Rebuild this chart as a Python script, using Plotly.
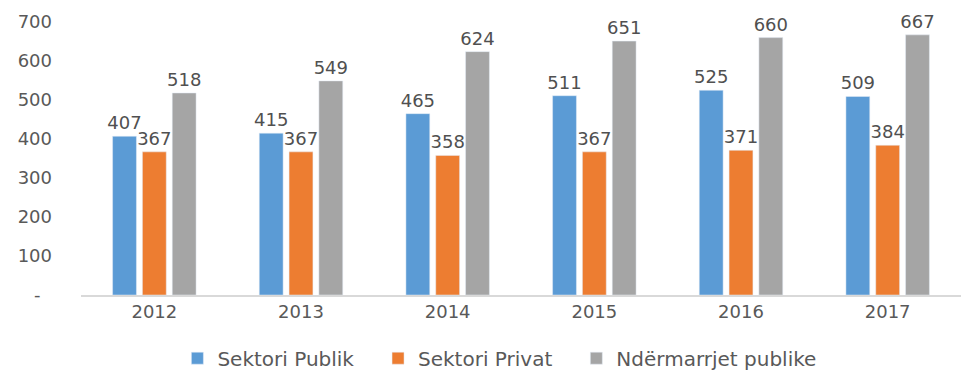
import plotly.graph_objects as go

years = ["2012", "2013", "2014", "2015", "2016", "2017"]
sektori_publik = [407, 415, 465, 511, 525, 509]
sektori_privat = [367, 367, 358, 367, 371, 384]
ndermarrjet_publike = [518, 549, 624, 651, 660, 667]

tick_vals = [0, 100, 200, 300, 400, 500, 600, 700]
tick_text = ["-\u00a0\u00a0", "100", "200", "300", "400", "500", "600", "700"]

series = [
    ("Sektori Publik\u00a0\u00a0\u00a0", sektori_publik, "#5B9BD5"),
    ("Sektori Privat\u00a0\u00a0\u00a0", sektori_privat, "#ED7D31"),
    ("Ndërmarrjet publike", ndermarrjet_publike, "#A5A5A5"),
]

fig = go.Figure()
for name, vals, color in series:
    fig.add_trace(go.Bar(
        x=years, y=vals, name=name, marker_color=color,
        text=[str(v) for v in vals], textposition="outside",
        constraintext="none",
        textfont=dict(size=18, color="#505050"), cliponaxis=False,
    ))

fig.update_layout(
    width=972, height=372,
    margin=dict(l=73, r=19, t=14, b=85, autoexpand=False),
    paper_bgcolor="white", plot_bgcolor="white",
    font=dict(family="DejaVu Sans, sans-serif", size=18, color="#595959"),
    barmode="group", bargap=0.39, bargroupgap=0.2,
    showlegend=True,
    legend=dict(orientation="h", x=0.476, xanchor="center", y=-0.16, yanchor="top",
                font=dict(size=20, color="#595959"), itemwidth=30),
    xaxis=dict(showline=True, linecolor="#D9D9D9", linewidth=1.5, ticks="",
               showgrid=False, tickfont=dict(size=18, color="#595959")),
    yaxis=dict(range=[0, 700], tickvals=tick_vals, ticktext=tick_text,
               showgrid=False, zeroline=False, showline=False,
               tickfont=dict(size=18, color="#595959"), ticklabelstandoff=28),
)

fig.write_html("out.html")
